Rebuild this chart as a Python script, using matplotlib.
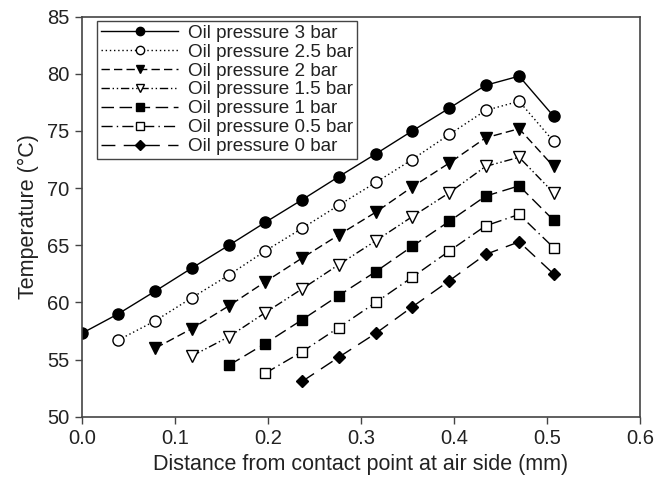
import matplotlib
matplotlib.use("Agg")
import matplotlib.pyplot as plt

plt.rcParams['font.family'] = ['Liberation Sans', 'DejaVu Sans']

# distance positions (mm)
x_all = [0.0, 0.039, 0.079, 0.118, 0.158, 0.197, 0.237, 0.276, 0.316,
         0.355, 0.395, 0.434, 0.470, 0.507]

labels = ['Oil pressure 3 bar', 'Oil pressure 2.5 bar', 'Oil pressure 2 bar',
          'Oil pressure 1.5 bar', 'Oil pressure 1 bar', 'Oil pressure 0.5 bar',
          'Oil pressure 0 bar']

t_3 = [57.3, 59.0, 61.0, 63.0, 65.0, 67.0, 69.0, 71.0, 73.0, 75.0, 77.0, 79.0, 79.8, 76.3]
t_25 = [56.7, 58.4, 60.4, 62.4, 64.5, 66.5, 68.5, 70.5, 72.5, 74.7, 76.8, 77.6, 74.1]
t_2 = [56.0, 57.7, 59.7, 61.8, 63.9, 65.9, 67.9, 70.1, 72.2, 74.4, 75.2, 71.9]
t_15 = [55.3, 57.0, 59.1, 61.2, 63.3, 65.4, 67.5, 69.6, 71.9, 72.7, 69.6]
t_1 = [54.5, 56.4, 58.5, 60.6, 62.7, 64.9, 67.1, 69.3, 70.2, 67.2]
t_05 = [53.8, 55.7, 57.8, 60.0, 62.2, 64.5, 66.7, 67.7, 64.8]
t_0 = [53.1, 55.2, 57.3, 59.6, 61.9, 64.2, 65.3, 62.5]

series = [t_3, t_25, t_2, t_15, t_1, t_05, t_0]
markers = ['o', 'o', 'v', 'v', 's', 's', 'D']
faces = ['black', 'white', 'black', 'white', 'black', 'white', 'black']
sizes = [8, 8, 8, 8, 7, 7, 6.5]
dashes = [None, (1, 2), (6, 3), (6, 2, 1, 2, 1, 2), (9, 4), (8, 3, 1, 3), (10, 6)]

fig = plt.figure(figsize=(6.54, 4.87), dpi=100)
ax = fig.add_axes([0.1254, 0.1444, 0.8532, 0.8213])

for ys, lab, m, fc, ms, d in zip(series, labels, markers, faces, sizes, dashes):
    xs = x_all[len(x_all) - len(ys):]
    line, = ax.plot(xs, ys, color='black', lw=1.0, marker=m, markersize=ms,
                    markerfacecolor=fc, markeredgecolor='black',
                    markeredgewidth=1.0, label=lab)
    if d is not None:
        line.set_dashes(d)

ax.set_xlim(0, 0.6)
ax.set_ylim(50, 85)
ax.set_xticks([0.0, 0.1, 0.2, 0.3, 0.4, 0.5, 0.6])
ax.set_yticks(range(50, 90, 5))
ax.set_xticklabels(['0.0', '0.1', '0.2', '0.3', '0.4', '0.5', '0.6'])
ax.tick_params(direction='out', length=5, width=1, labelsize=14.5, pad=4,
               top=False, right=False, color='#444444', labelcolor='#222222')
for sp in ax.spines.values():
    sp.set_color('#444444')
    sp.set_linewidth(1.2)

ax.set_xlabel('Distance from contact point at air side (mm)', fontsize=15.5,
              color='#222222', labelpad=4)
ax.set_ylabel('Temperature (\u00b0C)', fontsize=15.5, color='#222222', labelpad=6)

leg = ax.legend(loc='upper left', bbox_to_anchor=(0.027, 0.99),
                borderaxespad=0, fancybox=False, framealpha=1,
                fontsize=13.6, handlelength=4.1, handletextpad=0.5,
                labelspacing=0.09, borderpad=0.2, markerscale=0.75,
                edgecolor='#444444')
leg.get_frame().set_linewidth(1.0)
for t in leg.get_texts():
    t.set_color('#222222')

fig.savefig('out.png', dpi=100)
